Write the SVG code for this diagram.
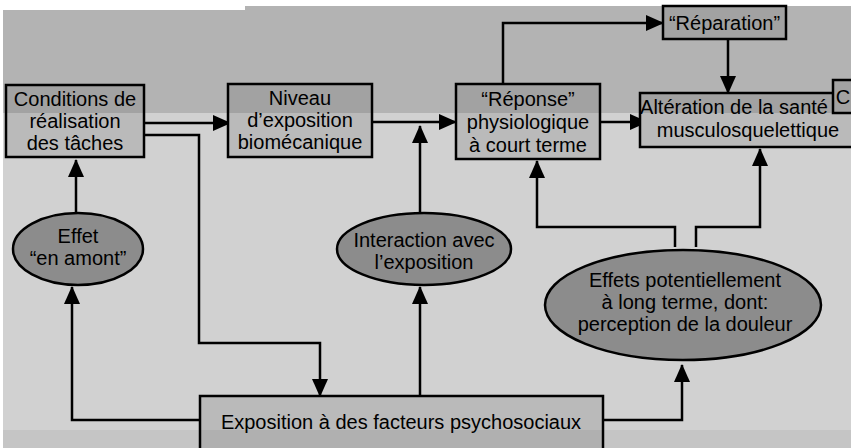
<svg xmlns="http://www.w3.org/2000/svg" width="851" height="448" viewBox="0 0 851 448">
<defs>
<linearGradient id="boxFill" gradientUnits="userSpaceOnUse" x1="0" y1="0" x2="0" y2="448">
<stop offset="0" stop-color="#a2a2a2"/>
<stop offset="0.2522" stop-color="#a2a2a2"/>
<stop offset="0.2522" stop-color="#bababa"/>
<stop offset="0.96" stop-color="#bababa"/>
<stop offset="0.96" stop-color="#b0b0b0"/>
<stop offset="1" stop-color="#b0b0b0"/>
</linearGradient>
<marker id="arrow" viewBox="0 0 18 16" refX="17" refY="8" markerWidth="18" markerHeight="16" markerUnits="userSpaceOnUse" orient="auto">
<path d="M0,0 L18,8 L0,16 z" fill="#000"/>
</marker>
<style>
.box{fill:url(#boxFill);stroke:#000;stroke-width:2.5}
.ell{fill:#8c8c8c;stroke:#000;stroke-width:2.5}
.t{font-family:"Liberation Sans",Arial,sans-serif;font-size:20px;fill:#000;text-anchor:middle}
.c{fill:none;stroke:#000;stroke-width:2.5;marker-end:url(#arrow)}
</style>
</defs>
<g id="background">
<rect x="0" y="0" width="851" height="448" fill="#ffffff"/>
<rect x="3" y="10" width="242" height="103" fill="#b3b3b3"/>
<rect x="245" y="6" width="606" height="107" fill="#b3b3b3"/>
<rect x="3" y="113" width="848" height="317" fill="#d1d1d1"/>
<rect x="3" y="430" width="848" height="18" fill="#c5c5c5"/>
</g>
<g id="connectors">
<path class="c" d="M144,123 H230"/>
<path class="c" d="M144,135 H199 V343 H320 V396"/>
<path class="c" d="M372,122 H456"/>
<path class="c" d="M420,213 V126"/>
<path class="c" d="M420,396 V287"/>
<path class="c" d="M200,420 H72 V287"/>
<path class="c" d="M76,213 V160"/>
<path class="c" d="M503,85 V23 H663"/>
<path class="c" d="M728,39 V93"/>
<path class="c" d="M600,122 H647"/>
<path class="c" d="M675,247 V227 H537 V161"/>
<path class="c" d="M696,247 V227 H760 V149"/>
<path class="c" d="M603,420 H682 V365"/>
</g>
<g id="node-conditions">
<rect class="box" x="6" y="85" width="138" height="72"/>
<text class="t" x="75" y="106">Conditions de</text>
<text class="t" x="75" y="128">réalisation</text>
<text class="t" x="75" y="150">des tâches</text>
</g>
<g id="node-niveau">
<rect class="box" x="228" y="84" width="144" height="73"/>
<text class="t" x="300" y="105">Niveau</text>
<text class="t" x="300" y="127">d’exposition</text>
<text class="t" x="300" y="149">biomécanique</text>
</g>
<g id="node-reponse">
<rect class="box" x="456" y="84" width="144" height="75"/>
<text class="t" x="528" y="106">“Réponse”</text>
<text class="t" x="528" y="129">physiologique</text>
<text class="t" x="528" y="152">à court terme</text>
</g>
<g id="node-reparation">
<rect class="box" x="663" y="6" width="123" height="33"/>
<text class="t" x="724.5" y="30">“Réparation”</text>
</g>
<g id="node-alteration">
<rect class="box" x="640" y="93" width="225" height="54"/>
<text class="t" x="734" y="114">Altération de la santé</text>
<text class="t" x="748" y="137">musculosquelettique</text>
</g>
<g id="node-c">
<rect class="box" x="833" y="80" width="24" height="33"/>
<text class="t" x="843" y="104">C</text>
</g>
<g id="node-amont">
<ellipse class="ell" cx="78" cy="249" rx="65" ry="36"/>
<text class="t" x="78" y="243">Effet</text>
<text class="t" x="78" y="265">“en amont”</text>
</g>
<g id="node-interaction">
<ellipse class="ell" cx="424" cy="249" rx="87" ry="36"/>
<text class="t" x="424" y="247">Interaction avec</text>
<text class="t" x="424" y="269">l’exposition</text>
</g>
<g id="node-effets">
<ellipse class="ell" cx="683" cy="305" rx="138" ry="55"/>
<text class="t" x="685" y="287">Effets potentiellement</text>
<text class="t" x="685" y="309">à long terme, dont:</text>
<text class="t" x="685" y="331">perception de la douleur</text>
</g>
<g id="node-psychosociaux">
<rect class="box" x="200" y="396" width="403" height="64"/>
<text class="t" x="401" y="429">Exposition à des facteurs psychosociaux</text>
</g>
</svg>
